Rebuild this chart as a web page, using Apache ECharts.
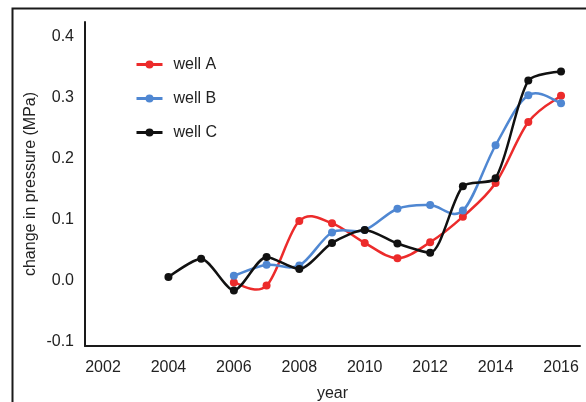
<!DOCTYPE html>
<html>
<head>
<meta charset="utf-8">
<script src="https://cdn.jsdelivr.net/npm/echarts@6/dist/echarts.min.js"></script>
<style>
  html, body { margin: 0; padding: 0; background: #ffffff; }
  #chart { width: 586px; height: 402px; }
</style>
</head>
<body>
<div id="chart"></div>
<script>
// Yearly change in pressure at three wells (MPa)
const years = [2004, 2005, 2006, 2007, 2008, 2009, 2010, 2011, 2012, 2013, 2014, 2015, 2016];
const wellA = [null, null, -0.003, -0.008, 0.098, 0.094, 0.062, 0.037, 0.063, 0.105, 0.160, 0.260, 0.303];
const wellB = [null, null, 0.008, 0.026, 0.025, 0.079, 0.083, 0.118, 0.124, 0.115, 0.222, 0.304, 0.291];
const wellC = [0.006, 0.036, -0.016, 0.039, 0.019, 0.062, 0.083, 0.061, 0.046, 0.155, 0.168, 0.328, 0.343];
const seriesNames = ['well A', 'well B', 'well C'];
const seriesColors = ['#ec2b2b', '#4f87d2', '#111111'];

const pairs = vals => years.map((y, i) => [y, vals[i]]).filter(p => p[1] !== null);

const font = 'Liberation Sans, Arial, Helvetica, sans-serif';
const textColor = '#222222';

// Catmull-Rom curve through the points, built in pixel space via the axes
function splineItem(points, color) {
  return function (params, api) {
    if (params.dataIndex !== 0) return null;
    const p = points.map(d => api.coord(d));
    const n = p.length;
    let path = 'M' + p[0][0] + ' ' + p[0][1];
    for (let i = 0; i < n - 1; i++) {
      const p0 = p[Math.max(i - 1, 0)];
      const p1 = p[i];
      const p2 = p[i + 1];
      const p3 = p[Math.min(i + 2, n - 1)];
      const c1x = p1[0] + (p2[0] - p0[0]) / 6;
      const c1y = p1[1] + (p2[1] - p0[1]) / 6;
      const c2x = p2[0] - (p3[0] - p1[0]) / 6;
      const c2y = p2[1] - (p3[1] - p1[1]) / 6;
      path += ' C' + c1x + ' ' + c1y + ' ' + c2x + ' ' + c2y + ' ' + p2[0] + ' ' + p2[1];
    }
    return {
      type: 'path',
      shape: { pathData: path },
      style: { fill: 'none', stroke: color, lineWidth: 2.5, lineJoin: 'round' }
    };
  };
}

const chart = echarts.init(document.getElementById('chart'), null, { renderer: 'canvas' });

const markerSeries = [wellA, wellB, wellC].map((vals, i) => ({
  name: seriesNames[i],
  type: 'line',
  data: pairs(vals),
  symbol: 'circle',
  symbolSize: 8,
  showSymbol: true,
  // black series is drawn by the line itself; red and blue use the spline
  smooth: i === 2 ? 0.25 : false,
  lineStyle: { width: 2.5, color: seriesColors[i], opacity: i === 2 ? 1 : 0 },
  itemStyle: { color: seriesColors[i] },
  z: 4 + i
}));

const curveSeries = [wellA, wellB].map((vals, i) => ({
  name: seriesNames[i],
  type: 'custom',
  data: pairs(vals),
  renderItem: splineItem(pairs(vals), seriesColors[i]),
  clip: false,
  z: 2 + i
}));

chart.setOption({
  animation: false,
  backgroundColor: '#ffffff',
  textStyle: { fontFamily: font },
  graphic: [{
    type: 'rect',
    left: 10, top: 6,
    shape: { width: 640, height: 460 },
    style: { fill: 'none', stroke: '#1a1a1a', lineWidth: 2 },
    silent: true,
    z: -1
  }],
  grid: { left: 85, right: 6, top: 22, bottom: 56, outerBoundsMode: 'none', containLabel: false },
  legend: {
    orient: 'vertical',
    left: 130, top: 51,
    itemWidth: 26, itemHeight: 10,
    itemGap: 17,
    data: seriesNames.map((n, i) => ({
      name: n,
      lineStyle: { width: 3, color: seriesColors[i], opacity: 1 }
    })),
    textStyle: { fontFamily: font, fontSize: 16, color: textColor, lineHeight: 17, padding: [0, 0, 0, 6] }
  },
  xAxis: {
    type: 'value',
    min: 2001.45, max: 2016.58,
    splitNumber: 7,
    name: 'year',
    nameLocation: 'middle',
    nameGap: 40,
    nameMoveOverlap: false,
    nameTextStyle: { fontFamily: font, fontSize: 16, color: textColor },
    axisLine: { show: true, onZero: false, lineStyle: { color: '#1a1a1a', width: 2 } },
    axisTick: { show: false },
    splitLine: { show: false },
    axisLabel: {
      showMinLabel: false, showMaxLabel: false,
      margin: 14,
      fontFamily: font, fontSize: 16, color: textColor,
      formatter: v => String(Math.round(v))
    }
  },
  yAxis: {
    type: 'value',
    min: -0.107, max: 0.424,
    splitNumber: 5,
    name: 'change in pressure (MPa)',
    nameLocation: 'middle',
    nameGap: 46,
    nameMoveOverlap: false,
    nameTextStyle: { fontFamily: font, fontSize: 16, color: textColor },
    axisLine: { show: true, onZero: false, lineStyle: { color: '#1a1a1a', width: 2 } },
    axisTick: { show: false },
    splitLine: { show: false },
    axisLabel: {
      showMinLabel: false, showMaxLabel: false,
      margin: 11,
      fontFamily: font, fontSize: 16, color: textColor,
      formatter: v => (Math.abs(v) < 1e-9 ? 0 : v).toFixed(1)
    }
  },
  series: markerSeries.concat(curveSeries)
});
</script>
</body>
</html>
